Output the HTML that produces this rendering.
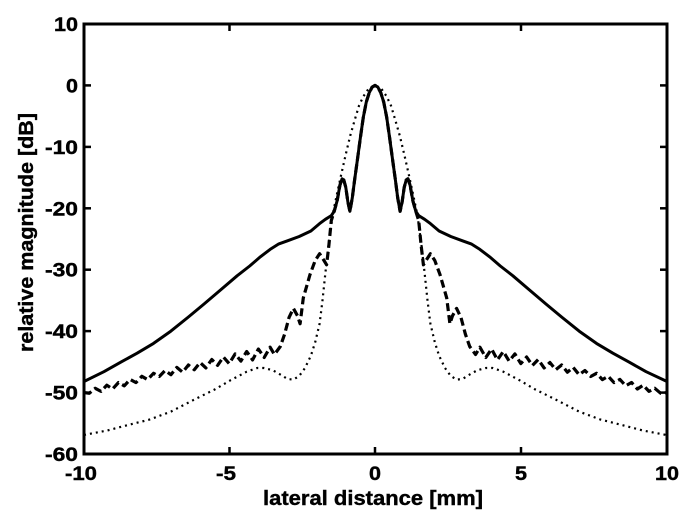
<!DOCTYPE html>
<html><head><meta charset="utf-8"><style>
html,body{margin:0;padding:0;background:#fff;}
svg{display:block;}
text{font-family:"Liberation Sans",Arial,sans-serif;font-weight:bold;fill:#000;stroke:#000;stroke-width:0.4;}
</style></head><body>
<svg width="696" height="526" viewBox="0 0 696 526" xmlns="http://www.w3.org/2000/svg">
<rect x="0" y="0" width="696" height="526" fill="#fff"/>
<g fill="none" stroke="#000" stroke-linejoin="round">
<!-- dotted -->
<polyline stroke-width="2.2" stroke-dasharray="2 4" points="84,434.9 106.8,430.6 130.1,424.5 149.4,419.6 170.9,411.6 197.2,398.1 214.7,389.5 230.4,380.3 246.7,371.7 257.2,368 264.2,368 273,370.4 281.7,375.3 287.5,379 293.4,379.6 299.2,376 305,368 310.9,355.7 315.2,342.2 319.6,323.7 322.5,300.4 325.4,272.8 328.9,242 332.7,214.4 337.1,193.5 341.5,173.2 345.8,154.2 350.2,135.8 354.6,120.4 359,105.7 363.3,96.5 369.2,87.9 375,85.4 380.8,87.9 386.7,96.5 391,105.7 395.4,120.4 399.8,135.8 404.2,154.2 408.5,173.2 412.9,193.5 417.3,214.4 421.1,242 424.6,272.8 427.5,300.4 430.4,323.7 434.8,342.2 439.1,355.7 445,368 450.8,376 456.6,379.6 462.5,379 468.3,375.3 477,370.4 485.8,368 492.8,368 503.3,371.7 519.6,380.3 535.3,389.5 552.8,398.1 579.1,411.6 600.6,419.6 619.9,424.5 643.2,430.6 666,434.9"/>
<!-- dashed -->
<polyline stroke-width="3.2" stroke-dasharray="8 4" points="84,392.6 89.3,393.3 95.2,388.3 101,391.4 106.8,385.2 112.6,389 118.5,382.5 124.3,385.8 130.1,379.4 136,382.6 141.8,376.3 147.6,379.6 153.5,373.3 159.3,376.5 165.1,370.5 170.9,374.7 176.8,367.4 182.6,372.2 188.4,365 194.3,369.7 200.1,362.5 205.9,367.9 211.8,359.5 217.6,365.4 223.4,357 229.2,363.6 235.1,353.9 240.9,361.1 246.7,351.5 252.6,359.9 258.4,349 264.2,357.5 270.1,347.2 274.4,354.5 280.3,346.5 284.6,334.2 289,317.6 293.4,308.4 297.5,315.8 300.1,323.7 303.3,297.9 310,274.6 315.2,260.5 319.6,253.7 324,260.5 326.6,264.8 328.9,245.1 331.3,220.5 334.2,211.3 337.1,200.9 340,184.9 342.1,178.8 343.8,180 345.8,187.4 347.9,202.1 349.9,211.3 352.3,197.8 354.6,180 357.5,159.1 360.4,137.6 363.3,117.3 366.3,102 369.2,92.8 372.1,87.2 375,85.4 377.9,87.2 380.8,92.8 383.7,102 386.7,117.3 389.6,137.6 392.5,159.1 395.4,180 397.7,197.8 400.1,211.3 402.1,202.1 404.2,187.4 406.2,180 407.9,178.8 410,184.9 412.9,200.9 415.8,211.3 418.7,220.5 421.1,245.1 423.4,264.8 426,260.5 430.4,253.7 434.8,260.5 440,274.6 446.7,297.9 449.9,323.7 452.5,315.8 456.6,308.4 461,317.6 465.4,334.2 469.7,346.5 475.6,354.5 479.9,347.2 485.8,357.5 491.6,349 497.4,359.9 503.3,351.5 509.1,361.1 514.9,353.9 520.8,363.6 526.6,357 532.4,365.4 538.2,359.5 544.1,367.9 549.9,362.5 555.7,369.7 561.6,365 567.4,372.2 573.2,367.4 579.1,374.7 584.9,370.5 590.7,376.5 596.5,373.3 602.4,379.6 608.2,376.3 614,382.6 619.9,379.4 625.7,385.8 631.5,382.5 637.4,389 643.2,385.2 649,391.4 654.8,388.3 660.7,393.3 667,392.6"/>
<!-- solid -->
<polyline stroke-width="3" points="84,381.5 103.9,371.7 121.4,361.8 137.1,353.2 153.5,343.4 170.9,331.1 188.4,317 203.9,304.1 220.5,290 237.1,275.8 249.7,266 260.4,256.8 270.1,249.4 278.8,243.9 287.5,240.8 299.2,236.5 310.9,231 319.6,223.6 325.4,219.3 331.3,215.6 334.2,211.3 337.1,200.9 340,184.9 342.1,178.8 343.8,180 345.8,187.4 347.9,202.1 349.9,211.3 352.3,197.8 354.6,180 357.5,159.1 360.4,137.6 363.3,117.3 366.3,102 369.2,92.8 372.1,87.2 375,85.4 377.9,87.2 380.8,92.8 383.7,102 386.7,117.3 389.6,137.6 392.5,159.1 395.4,180 397.7,197.8 400.1,211.3 402.1,202.1 404.2,187.4 406.2,180 407.9,178.8 410,184.9 412.9,200.9 415.8,211.3 418.7,215.6 424.6,219.3 430.4,223.6 439.1,231 450.8,236.5 462.5,240.8 471.2,243.9 479.9,249.4 489.6,256.8 500.3,266 512.9,275.8 529.5,290 546.1,304.1 561.6,317 579.1,331.1 596.5,343.4 612.9,353.2 628.6,361.8 646.1,371.7 667,381.5"/>
</g>
<!-- axes box -->
<rect x="84" y="24" width="583" height="430" fill="none" stroke="#000" stroke-width="3"/>
<g stroke="#000" stroke-width="2.5">
<line x1="229.5" y1="454" x2="229.5" y2="447"/><line x1="375" y1="454" x2="375" y2="447"/><line x1="521" y1="454" x2="521" y2="447"/>
<line x1="229.5" y1="24" x2="229.5" y2="31"/><line x1="375" y1="24" x2="375" y2="31"/><line x1="521" y1="24" x2="521" y2="31"/>
<line x1="84" y1="85.4" x2="91" y2="85.4"/><line x1="84" y1="146.9" x2="91" y2="146.9"/><line x1="84" y1="208.3" x2="91" y2="208.3"/><line x1="84" y1="269.7" x2="91" y2="269.7"/><line x1="84" y1="331.1" x2="91" y2="331.1"/><line x1="84" y1="392.6" x2="91" y2="392.6"/>
<line x1="667" y1="85.4" x2="660" y2="85.4"/><line x1="667" y1="146.9" x2="660" y2="146.9"/><line x1="667" y1="208.3" x2="660" y2="208.3"/><line x1="667" y1="269.7" x2="660" y2="269.7"/><line x1="667" y1="331.1" x2="660" y2="331.1"/><line x1="667" y1="392.6" x2="660" y2="392.6"/>
</g>
<g font-size="19" text-anchor="end">
<text x="78" y="31" textLength="24" lengthAdjust="spacingAndGlyphs">10</text>
<text x="78" y="92.4" textLength="12" lengthAdjust="spacingAndGlyphs">0</text>
<text x="78" y="153.9" textLength="33" lengthAdjust="spacingAndGlyphs">-10</text>
<text x="78" y="215.3" textLength="33" lengthAdjust="spacingAndGlyphs">-20</text>
<text x="78" y="276.7" textLength="33" lengthAdjust="spacingAndGlyphs">-30</text>
<text x="78" y="338.1" textLength="33" lengthAdjust="spacingAndGlyphs">-40</text>
<text x="78" y="399.6" textLength="33" lengthAdjust="spacingAndGlyphs">-50</text>
<text x="78" y="461" textLength="33" lengthAdjust="spacingAndGlyphs">-60</text>
</g>
<g font-size="19" text-anchor="middle">
<text x="81" y="480" textLength="32" lengthAdjust="spacingAndGlyphs">-10</text>
<text x="226" y="480" textLength="20" lengthAdjust="spacingAndGlyphs">-5</text>
<text x="375" y="480" textLength="12" lengthAdjust="spacingAndGlyphs">0</text>
<text x="521" y="480" textLength="12" lengthAdjust="spacingAndGlyphs">5</text>
<text x="667" y="480" textLength="24" lengthAdjust="spacingAndGlyphs">10</text>
</g>
<text x="373" y="505" font-size="20" text-anchor="middle" textLength="220" lengthAdjust="spacingAndGlyphs">lateral distance [mm]</text>
<text transform="translate(33,232.5) rotate(-90)" x="0" y="0" font-size="20" text-anchor="middle" textLength="239" lengthAdjust="spacingAndGlyphs">relative magnitude [dB]</text>
</svg>
</body></html>
